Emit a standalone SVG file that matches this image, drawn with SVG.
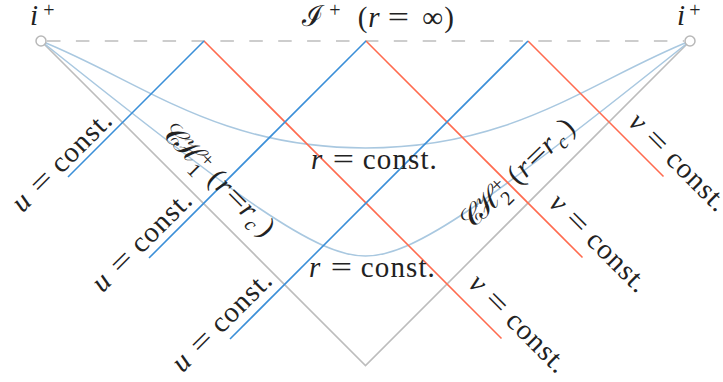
<svg xmlns="http://www.w3.org/2000/svg" width="723" height="382" viewBox="0 0 723 382" font-family="Liberation Serif, serif">
<style>
.t{font-size:29px;fill:#222}
.i{font-style:italic}
.s{font-size:20px}
.m{text-anchor:middle}
.blue{stroke:#3b8fd8;stroke-width:1.6;fill:none}
.red{stroke:#ff6b4f;stroke-width:1.6;fill:none}
.lb{stroke:#a9c8e0;stroke-width:1.6;fill:none}
.grey{stroke:#bdbdbd;stroke-width:1.6;fill:none}
.node{fill:#fff;stroke:#b8b8b8;stroke-width:1.5}
</style>
<rect width="723" height="382" fill="#fff"/>
<g id="connectors">
  <line class="grey" x1="47" y1="41" x2="684" y2="41" stroke-dasharray="13.5 15.4"/>
  <polyline class="grey" points="41,41 365.5,365.5 690,41"/>
  <path class="lb" d="M41,41 C141,81 216,148 365.5,148 C515,148 590,81 690,41"/>
  <path class="lb" d="M41,41 C241,201 316,256 365.5,256 C415,256 490,201 690,41"/>
  <line class="red" x1="204" y1="41" x2="501.5" y2="338.5"/>
  <line class="red" x1="366" y1="41" x2="582.5" y2="257.5"/>
  <line class="red" x1="528" y1="41" x2="663.5" y2="176.5"/>
  <line class="blue" x1="204" y1="41" x2="68" y2="177"/>
  <line class="blue" x1="366" y1="41" x2="149" y2="258"/>
  <line class="blue" x1="528" y1="41" x2="230" y2="339"/>
</g>
<g id="iplus-left">
  <circle class="node" cx="41" cy="41" r="5"/>
  <text class="t i" font-family="Liberation Serif" x="30" y="25" font-size="27">i</text>
  <text class="t s m" font-family="Liberation Serif" x="49" y="17" font-size="18">+</text>
</g>
<g id="iplus-right">
  <circle class="node" cx="690" cy="41" r="5"/>
  <text class="t i" font-family="Liberation Serif" x="677" y="25" font-size="27">i</text>
  <text class="t s m" font-family="Liberation Serif" x="695" y="17" font-size="18">+</text>
</g>
<g id="scri">
  <text class="t m" font-family="Liberation Serif" x="313" y="26">ℐ</text>
  <text class="t s m" font-family="Liberation Serif" x="335" y="17">+</text>
  <text class="t m" font-family="Liberation Serif" x="362.5" y="26.5">(</text>
  <text class="t i m" font-family="Liberation Serif" x="374" y="26.5">r</text>
  <text class="t m" font-family="Liberation Serif" transform="translate(398.5,26.5) scale(1.3,1)">=</text>
  <text class="t m" font-family="Liberation Serif" x="432.5" y="26.5">∞</text>
  <text class="t m" font-family="Liberation Serif" x="449" y="26.5">)</text>
</g>
<g id="r-upper" transform="translate(311,169)">
  <text class="t i" font-family="Liberation Serif" x="0" y="0">r</text>
  <text class="t m" font-family="Liberation Serif" transform="translate(32.4,0) scale(1.3,1)">=</text>
  <text class="t" font-family="Liberation Serif" x="51.8" y="0" textLength="74" lengthAdjust="spacing">const.</text>
</g>
<g id="r-lower" transform="translate(309,277)">
  <text class="t i" font-family="Liberation Serif" x="0" y="0">r</text>
  <text class="t m" font-family="Liberation Serif" transform="translate(32.4,0) scale(1.3,1)">=</text>
  <text class="t" font-family="Liberation Serif" x="51.8" y="0" textLength="74" lengthAdjust="spacing">const.</text>
</g>
<g id="u1" transform="translate(22.5,213.5) rotate(-45)">
  <text class="t i" font-family="Liberation Serif" x="0" y="0">u</text>
  <text class="t m" font-family="Liberation Serif" transform="translate(36,0) scale(1.3,1)">=</text>
  <text class="t" font-family="Liberation Serif" x="55" y="0" textLength="74" lengthAdjust="spacing">const.</text>
</g>
<g id="u2" transform="translate(102.5,293.5) rotate(-45)">
  <text class="t i" font-family="Liberation Serif" x="0" y="0">u</text>
  <text class="t m" font-family="Liberation Serif" transform="translate(36,0) scale(1.3,1)">=</text>
  <text class="t" font-family="Liberation Serif" x="55" y="0" textLength="74" lengthAdjust="spacing">const.</text>
</g>
<g id="u3" transform="translate(182.5,373.5) rotate(-45)">
  <text class="t i" font-family="Liberation Serif" x="0" y="0">u</text>
  <text class="t m" font-family="Liberation Serif" transform="translate(36,0) scale(1.3,1)">=</text>
  <text class="t" font-family="Liberation Serif" x="55" y="0" textLength="74" lengthAdjust="spacing">const.</text>
</g>
<g id="v1" transform="translate(467,285) rotate(45)">
  <text class="t i" font-family="Liberation Serif" x="0" y="0">v</text>
  <text class="t m" font-family="Liberation Serif" transform="translate(33.3,0) scale(1.3,1)">=</text>
  <text class="t" font-family="Liberation Serif" x="52.6" y="0" textLength="74" lengthAdjust="spacing">const.</text>
</g>
<g id="v2" transform="translate(547.5,204.5) rotate(45)">
  <text class="t i" font-family="Liberation Serif" x="0" y="0">v</text>
  <text class="t m" font-family="Liberation Serif" transform="translate(33.3,0) scale(1.3,1)">=</text>
  <text class="t" font-family="Liberation Serif" x="52.6" y="0" textLength="74" lengthAdjust="spacing">const.</text>
</g>
<g id="v3" transform="translate(627,123.5) rotate(45)">
  <text class="t i" font-family="Liberation Serif" x="0" y="0">v</text>
  <text class="t m" font-family="Liberation Serif" transform="translate(33.3,0) scale(1.3,1)">=</text>
  <text class="t" font-family="Liberation Serif" x="52.6" y="0" textLength="74" lengthAdjust="spacing">const.</text>
</g>
<g id="ch1" transform="translate(210,184) rotate(45)">
  <text class="t m" font-family="Liberation Serif" x="-60" y="0">𝒞</text>
  <text class="t m" font-family="Liberation Serif" x="-38" y="0">ℋ</text>
  <text class="t s m" font-family="Liberation Serif" x="-19" y="-9">+</text>
  <text class="t s m" font-family="Liberation Serif" x="-21" y="8">1</text>
  <text class="t m" font-family="Liberation Serif" x="0" y="0">(</text>
  <text class="t i m" font-family="Liberation Serif" x="11.5" y="0">r</text>
  <text class="t m" font-family="Liberation Serif" transform="translate(29.5,0) scale(1.3,1)">=</text>
  <text class="t i m" font-family="Liberation Serif" x="45.5" y="0">r</text>
  <text class="t i s m" font-family="Liberation Serif" x="57.5" y="6">c</text>
  <text class="t m" font-family="Liberation Serif" x="71.5" y="0">)</text>
</g>
<g id="ch2" transform="translate(521.5,182.5) rotate(-44)">
  <text class="t m" font-family="Liberation Serif" x="-60" y="0">𝒞</text>
  <text class="t m" font-family="Liberation Serif" x="-38" y="0">ℋ</text>
  <text class="t s m" font-family="Liberation Serif" x="-19" y="-9">+</text>
  <text class="t s m" font-family="Liberation Serif" x="-21" y="8">2</text>
  <text class="t m" font-family="Liberation Serif" x="0" y="0">(</text>
  <text class="t i m" font-family="Liberation Serif" x="11.5" y="0">r</text>
  <text class="t m" font-family="Liberation Serif" transform="translate(29.5,0) scale(1.3,1)">=</text>
  <text class="t i m" font-family="Liberation Serif" x="45.5" y="0">r</text>
  <text class="t i s m" font-family="Liberation Serif" x="57.5" y="6">c</text>
  <text class="t m" font-family="Liberation Serif" x="71.5" y="0">)</text>
</g>
</svg>
